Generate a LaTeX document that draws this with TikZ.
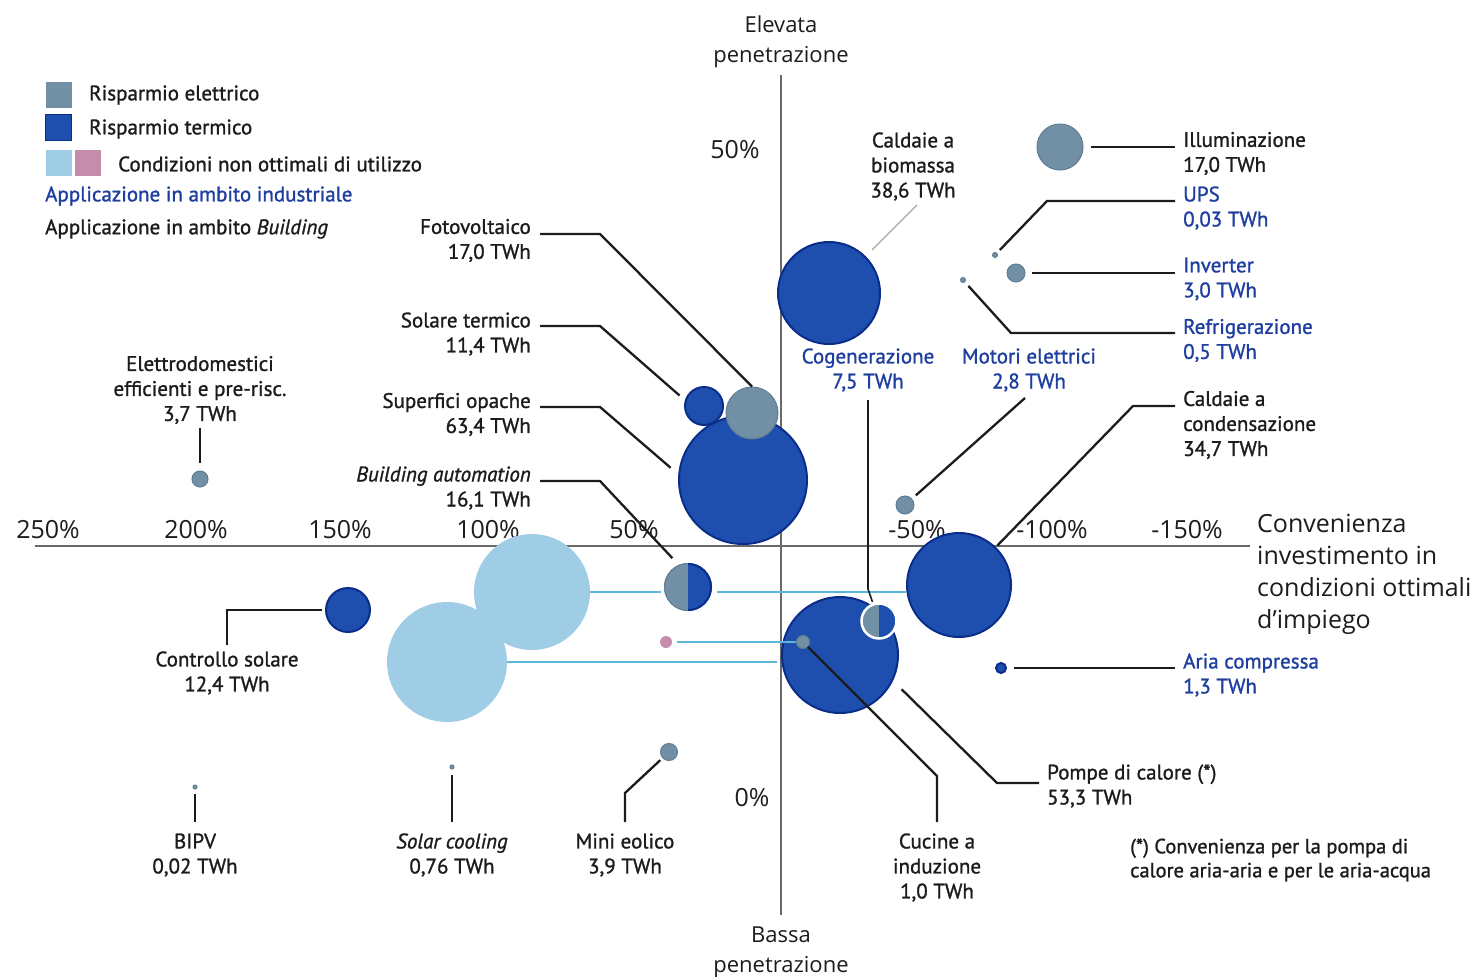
\documentclass[tikz,border=0pt]{standalone}
\usepackage{fontspec}
\newfontfamily\lblf[FakeBold=1.2]{PT Sans}
\newfontfamily\axf{Open Sans}
\definecolor{elec}{HTML}{7190A5}
\definecolor{elecd}{HTML}{5E7D93}
\definecolor{therm}{HTML}{1E4FAE}
\definecolor{thermd}{HTML}{0B2D8A}
\definecolor{lightb}{HTML}{9FCDE5}
\definecolor{pinkc}{HTML}{C48DAB}
\definecolor{indb}{HTML}{1F3FA0}
\definecolor{cyanl}{HTML}{5CB7DB}
\definecolor{txt}{HTML}{1C1C1C}
\definecolor{axc}{HTML}{6A6A6A}
\begin{document}
\begin{tikzpicture}[x=1pt,y=-1pt,
  lbl/.style={font=\lblf\fontsize{21}{25}\selectfont, text=txt, inner sep=0pt},
  ind/.style={text=indb},
  lead/.style={draw=txt, line width=2.3pt},
  thinlead/.style={draw=gray!70, line width=1.2pt},
  ebub/.style={circle, inner sep=0pt, fill=elec, draw=elecd, line width=1pt, minimum size=#1},
  tbub/.style={circle, inner sep=0pt, fill=therm, draw=thermd, line width=2pt, minimum size=#1},
  lbub/.style={circle, inner sep=0pt, fill=lightb, minimum size=#1},
  hbubnode/.style={circle, inner sep=0pt, minimum size=#1},
  sq/.style={inner sep=0pt, minimum size=26pt},
  ax/.style={draw=axc, line width=1.8pt},
  axl/.style={font=\axf\fontsize{25}{31}\selectfont, text=txt, inner sep=0pt},
  cyl/.style={draw=cyanl, line width=2pt},
]
\useasboundingbox[fill=white] (0,0) rectangle (1483,977);

% axes
\coordinate (hL) at (35,546); \coordinate (hR) at (1250,546);
\coordinate (vT) at (781,75); \coordinate (vB) at (781,915);
\draw[ax] (hL) -- (hR);
\draw[ax] (vT) -- (vB);

\node[axl] (t250) at (48,530) {250\%};
\node[axl] (t200) at (196,530) {200\%};
\node[axl] (t150) at (340,530) {150\%};
\node[axl] (t100) at (488,530) {100\%};
\node[axl] (t50) at (634,530) {50\%};
\node[axl] (tm50) at (917,530) {-50\%};
\node[axl] (tm100) at (1052,530) {-100\%};
\node[axl] (tm150) at (1187,530) {-150\%};
\node[axl] (v50) at (735,150) {50\%};
\node[axl] (v0) at (752,798) {0\%};
\node[axl, align=center, font=\axf\fontsize{22}{30}\selectfont] (top) at (781,42) {Elevata\\penetrazione};
\node[axl, align=center, font=\axf\fontsize{22}{30}\selectfont] (bot) at (781,952) {Bassa\\penetrazione};
\node[axl, align=left, anchor=west, font=\axf\fontsize{25}{32}\selectfont] (conv) at (1257,574) {Convenienza\\investimento in\\condizioni ottimali\\d’impiego};

% legend
\node[sq, fill=elec] (sqE) at (58.5,94.5) {};
\node[sq, fill=therm, draw=thermd, line width=1pt] (sqT) at (58.5,127) {};
\node[sq, fill=lightb] (sqL) at (58.5,163) {};
\node[sq, fill=pinkc] (sqP) at (88,163) {};
\node[lbl, anchor=west] (legE) at (89,95) {Risparmio elettrico};
\node[lbl, anchor=west] (legT) at (89,129) {Risparmio termico};
\node[lbl, anchor=west] (legC) at (118,164) {Condizioni non ottimali di utilizzo};
\node[lbl, ind, anchor=west] (legI) at (45,196) {Applicazione in ambito industriale};
\node[lbl, anchor=west] (legB) at (45,229) {Applicazione in ambito \textit{Building}};

% non-optimal bubbles
\node[lbub=116] (lb1) at (532,592) {};
\node[lbub=120] (lb2) at (447,662) {};

% building cluster
\node[tbub=128] (so) at (743,480) {};
\node[tbub=38] (st) at (704,406) {};
\node[ebub=52] (fv) at (752,413) {};

% building automation half bubble
\node[hbubnode=48] (ba) at (688,587) {};
\begin{scope}
  \clip ([shift={(-30,-30)}]ba.center) rectangle ([shift={(0,30)}]ba.center);
  \fill[elec] (ba.center) circle[radius=24];
  \draw[elecd, line width=1pt] (ba.center) circle[radius=23.5];
\end{scope}
\begin{scope}
  \clip ([shift={(0,-30)}]ba.center) rectangle ([shift={(30,30)}]ba.center);
  \fill[therm] (ba.center) circle[radius=24];
  \draw[thermd, line width=2pt] (ba.center) circle[radius=23];
\end{scope}

% other bubbles
\node[ebub=46] (ill) at (1060,147) {};
\node[ebub=5] (ups) at (995,255) {};
\node[ebub=18] (inv) at (1016,273) {};
\node[ebub=5] (ref) at (963,280) {};
\node[tbub=102] (bio) at (829,293) {};
\node[ebub=18] (mot) at (905,505) {};
\node[tbub=104] (cond) at (959,585) {};
\node[tbub=10] (aria) at (1001,668) {};
\node[tbub=116] (pdc) at (840,655) {};
\node[ebub=13] (cuc) at (803,642) {};
\node[circle, inner sep=0pt, fill=pinkc, minimum size=12pt] (pnk) at (666,642) {};
\node[tbub=44] (cs) at (348,610) {};
\node[ebub=16] (eld) at (200,479) {};
\node[ebub=4] (bipv) at (195,787) {};
\node[ebub=4] (sc) at (452,767) {};
\node[ebub=17] (me) at (669,752) {};

% cogenerazione half bubble
\node[hbubnode=34] (cog) at (879,621) {};
\begin{scope}
  \clip ([shift={(-20,-20)}]cog.center) rectangle ([shift={(0,20)}]cog.center);
  \fill[elec] (cog.center) circle[radius=17];
\end{scope}
\begin{scope}
  \clip ([shift={(0,-20)}]cog.center) rectangle ([shift={(20,20)}]cog.center);
  \fill[therm] (cog.center) circle[radius=17];
\end{scope}
\draw[white, line width=2.5pt] (cog.center) circle[radius=17.5];

% cyan lines
\draw[cyl, shorten >=3pt] (lb1.east) -- (ba.west |- lb1.east);
\draw[cyl, shorten <=5pt] (ba.east |- lb1.east) -- (cond.west |- lb1.east);
\draw[cyl, shorten >=4pt] (lb2.east) -- (pdc.west |- lb2.east);
\draw[cyl, shorten <=5pt] (pnk) -- (cuc);

% labels
\node[lbl, anchor=west, align=left] (illL) at (1183,153.5) {Illuminazione\\17,0 TWh};
\node[lbl, ind, anchor=west, align=left] (upsL) at (1183,208) {UPS\\0,03 TWh};
\node[lbl, ind, anchor=west, align=left] (invL) at (1183,279) {Inverter\\3,0 TWh};
\node[lbl, ind, anchor=west, align=left] (refL) at (1183,340.5) {Refrigerazione\\0,5 TWh};
\node[lbl, anchor=west, align=left] (condL) at (1183,425) {Caldaie a\\condensazione\\34,7 TWh};
\node[lbl, ind, anchor=west, align=left] (ariaL) at (1183,675) {Aria compressa\\1,3 TWh};
\node[lbl, anchor=west, align=left] (pdcL) at (1047,786) {Pompe di calore (*)\\53,3 TWh};
\node[lbl, anchor=west, align=left, font=\lblf\fontsize{20.5}{24}\selectfont] (note) at (1130,860) {(*) Convenienza per la pompa di\\calore aria-aria e per le aria-acqua};

\node[lbl, anchor=east, align=right] (fvL) at (531,240.5) {Fotovoltaico\\17,0 TWh};
\node[lbl, anchor=east, align=right] (stL) at (531,334) {Solare termico\\11,4 TWh};
\node[lbl, anchor=east, align=right] (soL) at (531,414.5) {Superfici opache\\63,4 TWh};
\node[lbl, anchor=east, align=right] (baL) at (531,488) {\textit{Building automation}\\16,1 TWh};

\node[lbl, align=center] (bioL) at (913,166.5) {Caldaie a\\biomassa\\38,6 TWh};
\node[lbl, ind, align=center] (cogL) at (868,370) {Cogenerazione\\7,5 TWh};
\node[lbl, ind, align=center] (motL) at (1029,370) {Motori elettrici\\2,8 TWh};
\node[lbl, align=center] (eldL) at (200,390) {Elettrodomestici\\efficienti e pre-risc.\\3,7 TWh};
\node[lbl, align=center] (csL) at (227,673) {Controllo solare\\12,4 TWh};
\node[lbl, align=center] (bipvL) at (195,855) {BIPV\\0,02 TWh};
\node[lbl, align=center] (scL) at (452,855) {\textit{Solar cooling}\\0,76 TWh};
\node[lbl, align=center] (meL) at (625,855) {Mini eolico\\3,9 TWh};
\node[lbl, align=center] (cucL) at (937,867.5) {Cucine a\\induzione\\1,0 TWh};

% leader lines
\coordinate (illE) at (1175,147);
\draw[lead, shorten <=7pt] (ill) -- (illE);
\coordinate (upsK) at (1047,201); \coordinate (upsE) at (1175,201);
\draw[lead, shorten <=4pt] (ups) -- (upsK) -- (upsE);
\coordinate (invE) at (1175,273);
\draw[lead, shorten <=6pt] (inv) -- (invE);
\coordinate (refK) at (1011,333); \coordinate (refE) at (1175,333);
\draw[lead, shorten <=5pt] (ref) -- (refK) -- (refE);
\coordinate (bioE) at (917,205);
\draw[thinlead, shorten <=9pt] (bio) -- (bioE);
\coordinate (cogT) at (868,400); \coordinate (cogK) at (868,589);
\draw[lead, line width=1.6pt, shorten >=3pt] (cogT) -- (cogK) -- (cog);
\coordinate (motT) at (1025,398);
\draw[lead, shorten >=5pt] (motT) -- (mot);
\coordinate (condE) at (1175,406); \coordinate (condK) at (1133,406);
\draw[lead, shorten >=2pt] (condE) -- (condK) -- (cond);
\coordinate (ariaE) at (1175,668);
\draw[lead, shorten <=7pt] (aria) -- (ariaE);
\coordinate (pdcK) at (997,783); \coordinate (pdcE) at (1039,783);
\draw[lead, shorten <=12pt] (pdc.-26) -- (pdcK) -- (pdcE);
\coordinate (cucK) at (937,776); \coordinate (cucE) at (937,822);
\draw[lead] (cuc) -- (cucK) -- (cucE);
\coordinate (csK) at (227,610); \coordinate (csE) at (227,645);
\draw[lead, shorten <=3pt] (cs) -- (csK) -- (csE);
\coordinate (eldT) at (200,428);
\draw[lead, shorten >=8pt] (eldT) -- (eld);
\coordinate (fvS) at (540,234); \coordinate (fvK) at (600,234);
\draw[lead] (fvS) -- (fvK) -- (fv.north);
\coordinate (stS) at (540,326); \coordinate (stK) at (600,326);
\draw[lead, shorten >=7pt] (stS) -- (stK) -- (st.163);
\coordinate (soS) at (540,407); \coordinate (soK) at (600,407);
\draw[lead, shorten >=10pt] (soS) -- (soK) -- (so.175);
\coordinate (baS) at (540,481); \coordinate (baK) at (600,481);
\draw[lead, shorten >=9pt] (baS) -- (baK) -- (ba.113);
\coordinate (bipvE) at (195,822);
\draw[lead, shorten <=4pt] (bipv) -- (bipvE);
\coordinate (scE) at (452,822);
\draw[lead, shorten <=5pt] (sc) -- (scE);
\coordinate (meK) at (625,793); \coordinate (meE) at (625,822);
\draw[lead, shorten <=3pt] (me) -- (meK) -- (meE);
\end{tikzpicture}
\end{document}
